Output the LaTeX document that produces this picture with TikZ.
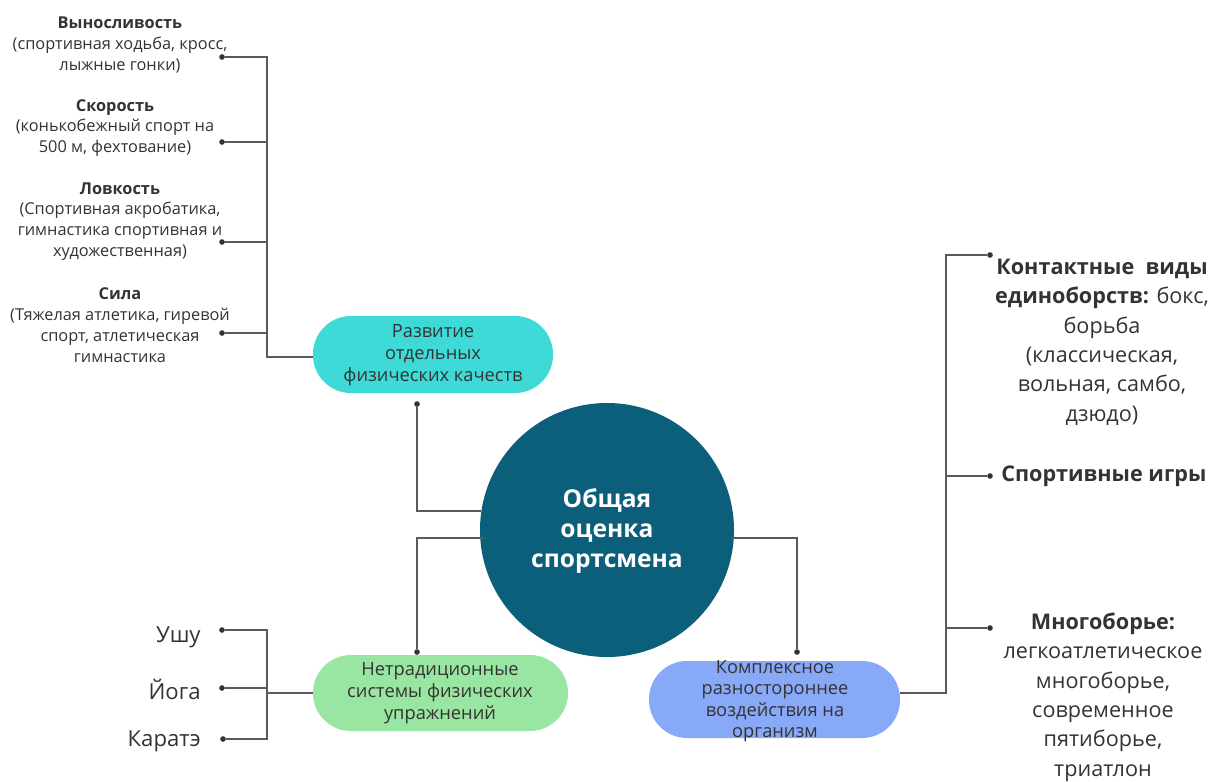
\documentclass[tikz,border=0pt]{standalone}
\usepackage{fontspec}
\setmainfont{Open Sans}
\begin{document}
\begin{tikzpicture}[x=0.02cm,y=-0.02cm,
  line/.style={draw=linegray, line width=0.7pt},
  dotc/.style={circle, fill=dotgray, inner sep=0pt, minimum size=3.2pt},
  ptext/.style={align=center, text=txt, font=\fontsize{10.4}{12.7}\selectfont},
  ltext/.style={align=center, text=txt, font=\fontsize{9.3}{11.9}\selectfont, inner sep=0pt},
  rtext/.style={align=center, text=txt, font=\fontsize{12.3}{16.7}\selectfont, inner sep=0pt},
  utext/.style={anchor=east, text=txt, inner sep=0pt, font=\fontsize{12.6}{15}\selectfont},
]
\definecolor{linegray}{HTML}{5A5A5A}
\definecolor{dotgray}{HTML}{333333}
\definecolor{txt}{HTML}{333333}
\definecolor{cyanp}{HTML}{3DDAD7}
\definecolor{greenp}{HTML}{98E6A1}
\definecolor{bluep}{HTML}{88A9F7}
\definecolor{circ}{HTML}{0B5F7B}
\useasboundingbox (0,0) rectangle (1210,781);

% central circle
\node[circle, fill=circ, minimum size=254*0.02cm, inner sep=0pt] (c) at (607,530) {};
\node[align=center, text=white, font=\fontsize{14}{17}\bfseries\selectfont] (ct) at (607,531) {Общая\\оценка\\спортсмена};

% pills
\path[fill=cyanp, rounded corners=38*0.02cm] (313,316) rectangle (553,393);
\node[ptext] (p1) at (433,355) {Развитие\\отдельных\\физических качеств};
\coordinate (p1w) at (313,357);
\path[fill=greenp, rounded corners=38*0.02cm] (313,655) rectangle (568,731);
\node[ptext] (p2) at (440,693) {Нетрадиционные\\системы физических\\упражнений};
\coordinate (p2w) at (313,693);
\path[fill=bluep, rounded corners=38*0.02cm] (649,661) rectangle (900,738);
\node[ptext, font=\fontsize{10.4}{12.2}\selectfont] (p3) at (775,701) {Комплексное\\разностороннее\\воздействия на\\организм};
\coordinate (p3e) at (900,693);

% left texts
\node[ltext] (t1) at (120,45) {\textbf{Выносливость}\\(спортивная ходьба, кросс,\\лыжные гонки)};
\node[ltext] (t2) at (115,128) {\textbf{Скорость}\\(конькобежный спорт на\\500 м, фехтование)};
\node[ltext] (t3) at (120,221.5) {\textbf{Ловкость}\\(Спортивная акробатика,\\гимнастика спортивная и\\художественная)};
\node[ltext] (t4) at (120,325) {\textbf{Сила}\\(Тяжелая атлетика, гиревой\\спорт, атлетическая\\гимнастика};

\node[dotc] (d1) at (222,57) {};
\node[dotc] (d2) at (222,142) {};
\node[dotc] (d3) at (222,242) {};
\node[dotc] (d4) at (222,333) {};
\coordinate (b1) at (267,57);
\coordinate (b4) at (267,357);
\draw[line] (d1) -- (b1) -- (b4) -- (p1w);
\draw[line] (d2) -- (d2 -| b1);
\draw[line] (d3) -- (d3 -| b1);
\draw[line] (d4) -- (d4 -| b1);

% bottom-left
\node[utext] (u1) at (201,637) {Ушу};
\node[utext] (u2) at (201,689) {Йога};
\node[utext] (u3) at (201,741) {Каратэ};
\node[dotc] (e1) at (222,630) {};
\node[dotc] (e2) at (222,688) {};
\node[dotc] (e3) at (223,739) {};
\coordinate (g1) at (267,630);
\coordinate (g3) at (267,739);
\draw[line] (e1) -- (g1) -- (g3) -- (e3);
\draw[line] (e2) -- (e2 -| g1);
\draw[line] (p2w) -- (p2w -| g1);

% center connectors
\node[dotc] (k1) at (417,404) {};
\coordinate (k1b) at (417,511);
\draw[line] (k1) -- (k1b) -- (481,511);
\node[dotc] (k2) at (417,652) {};
\coordinate (k2t) at (417,538);
\draw[line] (k2) -- (k2t) -- (484,538);
\node[dotc] (k3) at (797,652) {};
\coordinate (k3t) at (797,538);
\draw[line] (k3) -- (k3t) -- (731,538);

% right side
\node[dotc] (r1) at (990,255) {};
\node[dotc] (r2) at (990,476) {};
\node[dotc] (r3) at (990,628) {};
\coordinate (rb) at (946,693);
\coordinate (rt) at (946,255);
\draw[line] (r1) -- (rt) -- (rb) -- (p3e);
\draw[line] (r2) -- (r2 -| rt);
\draw[line] (r3) -- (r3 -| rt);

\node[rtext] (s1) at (1102,342) {\textbf{Контактные\ \ виды}\\\textbf{единоборств:} бокс,\\борьба\\(классическая,\\вольная, самбо,\\дзюдо)};
\node[rtext, anchor=west] (s2) at (1001,476) {\textbf{Спортивные игры}};
\node[rtext] (s3) at (1103,697) {\textbf{Многоборье:}\\легкоатлетическое\\многоборье,\\современное\\пятиборье,\\триатлон};
\end{tikzpicture}
\end{document}
